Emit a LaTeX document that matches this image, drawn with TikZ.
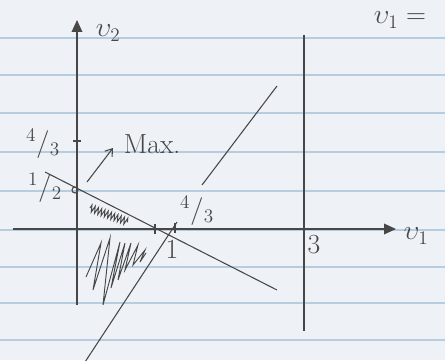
\documentclass[tikz,border=0pt]{standalone}
\usepackage{amsmath}
\usepackage{tikz}
\usetikzlibrary{positioning}
\usetikzlibrary{decorations.pathmorphing, arrows.meta}

\definecolor{paper}{HTML}{EEF2F6}
\definecolor{rule}{HTML}{B7CCDF}
\definecolor{ink}{HTML}{474747}

\begin{document}
\begin{tikzpicture}[x=0.75pt, y=-0.75pt, line width=0.8pt, draw=ink,
    lbl/.style={font=\huge, text=ink, inner sep=1pt},
    frac/.style={font=\huge, text=ink, inner sep=0pt},
    axis/.style={draw=ink, line width=1pt, -{Triangle[length=9pt,width=8pt]}}]
            \fill[paper] (0,0) rectangle (445,360);
            \useasboundingbox (0,0) rectangle (445,360);
            \foreach \y in {38,75,113,152,191,230,267,303,340}
                \draw[rule, line width=0.8pt] (0,\y) -- (445,\y);
            % axes
            \coordinate (o) at (77,229);
            \coordinate (xs) at (13,229);
            \coordinate (xe) at (396,229);
            \coordinate (ys) at (77,305);
            \coordinate (ye) at (77,20);
            \draw[axis] (xs) -- (xe);
            \draw[axis] (ys) -- (ye);
            \node[lbl, anchor=west] (v1) at (402,236) {$\upsilon_1$};
            \node[lbl, anchor=west] (v2) at (94,33) {$\upsilon_2$};
            \node[lbl, anchor=base west] (top) at (372,24) {$\upsilon_1 =$};
            % ticks
            \coordinate (t1) at (155,229);
            \coordinate (t43) at (175,229);
            \coordinate (t3) at (304,229);
            \coordinate (s43) at (77,141);
            \draw (t1) ++(0,-5) -- ++(0,10);
            \draw (t43) ++(0,-6) -- ++(0,10);
            \draw (s43) ++(-4,0) -- ++(8,0);
            \node[frac] (l43y) at (43,144) {$^4/_3$};
            \node[frac] (l12) at (45,188) {$^1/_2$};
            \node[frac] (l43x) at (197,211) {$^4/_3$};
            \node[frac] (l1) at (172,250) {$1$};
            \node[frac] (l3) at (314,245) {$3$};
            % constraint lines
            \coordinate (ct) at (304,35);
            \coordinate (cb) at (304,331);
            \draw (ct) -- (cb);
            \coordinate (as) at (45,172);
            \coordinate (ae) at (277,290);
            \draw (as) -- (ae);
            \coordinate (bt) at (277,86);
            \coordinate (bm) at (202,185);
            \coordinate (bn) at (177,222);
            \coordinate (bb) at (85,362);
            \draw (bt) -- (bm);
            \draw (bn) -- (bb);
            % optimum
            \node[circle, draw=ink, inner sep=1.6pt] (opt) at (75,190) {};
            \coordinate (ms) at (87,182);
            \coordinate (me) at (113,148);
            \draw[-{Straight Barb[length=5pt,width=7pt]}] (ms) -- (me);
            \node[lbl, anchor=west] (max) at (122,144) {Max.};
            % feasible region
            \draw[line width=0.7pt, decorate,
                decoration={zigzag, segment length=2.6pt, amplitude=2.6pt}]
                (90,208) -- (128,222);
            \draw[line width=0.7pt] (86,277) -- (101,243) -- (93,290) -- (110,238)
                -- (103,305) -- (120,242) -- (111,288) -- (125,243) -- (118,280)
                -- (131,243) -- (125,270) -- (138,245) -- (133,265) -- (145,250)
                -- (140,262) -- (146,253);
        \end{tikzpicture}
\end{document}
